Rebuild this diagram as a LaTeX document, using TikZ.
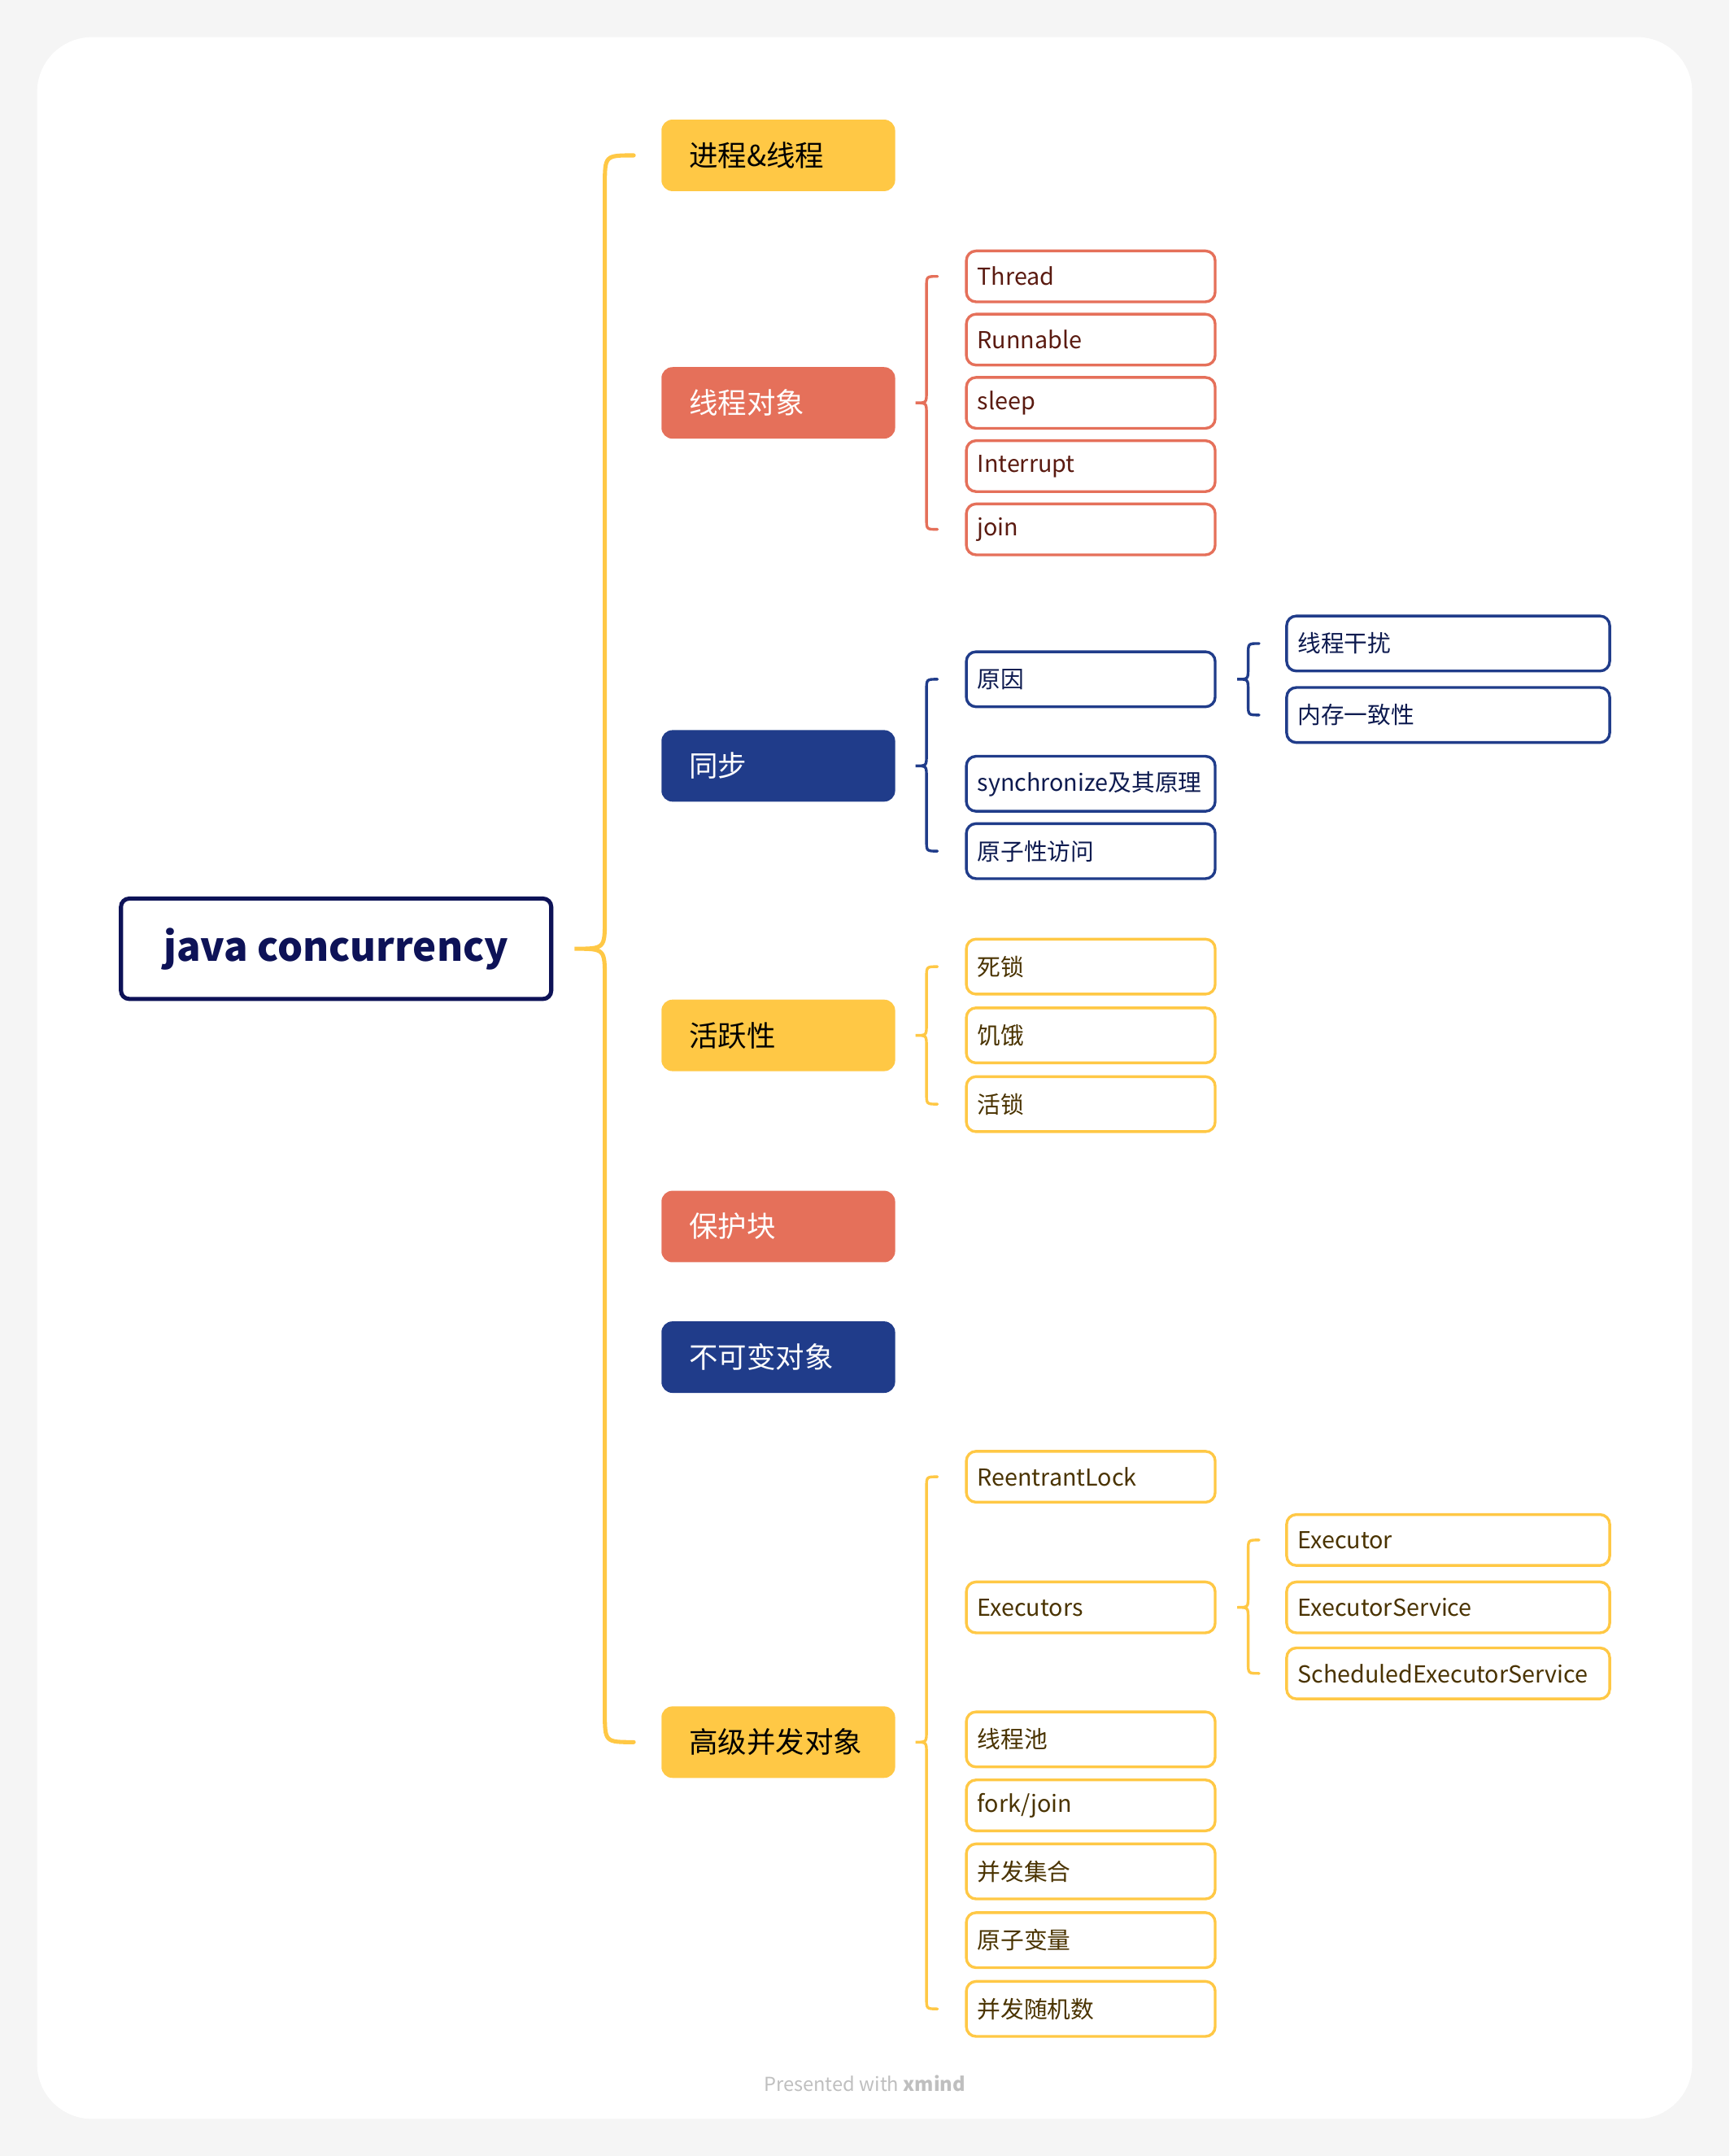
\documentclass[tikz,border=0pt]{standalone}
\usepackage{fontspec}
\setmainfont{Noto Sans CJK SC}
\usetikzlibrary{calc}
\definecolor{bgc}{HTML}{F5F5F5}
\definecolor{yel}{HTML}{FFC845}
\definecolor{redc}{HTML}{E5705A}
\definecolor{blu}{HTML}{203C8A}
\definecolor{navy}{HTML}{0D1257}
\definecolor{redt}{HTML}{5A1A10}
\definecolor{yelt}{HTML}{4A3300}
\definecolor{blut}{HTML}{0D1A4F}
\tikzset{
 brace/.style={line width=2pt, line cap=round},
 root/.style={draw=navy, line width=3pt, rounded corners=6pt, fill=white, minimum width=313pt, minimum height=73pt, text=navy, font=\fontsize{29}{34}\selectfont\bfseries},
 lone/.style={rounded corners=8pt, minimum height=52pt, text width=130pt, inner xsep=20pt, align=left, anchor=west, font=\fontsize{21}{26}\selectfont},
 ltwo/.style={draw, line width=2pt, rounded corners=7pt, fill=white, minimum height=37pt, text width=165pt, inner xsep=8pt, align=left, anchor=west, font=\fontsize{17}{20}\selectfont},
 lthree/.style={ltwo, text width=219pt},
 rb/.style={draw=redc, text=redt},
 bb/.style={draw=blu, text=blut},
 yb/.style={draw=yel, text=yelt},
}
\newcommand\mybrace[8]{%
\draw[#1,brace] let \p0=(#2.east),\p1=(#3.west),\p2=(#4.west) in
 (#7pt,\y1) .. controls (#6pt,\y1) .. (#6pt,\y1-#8) -- (#6pt,\y0+#8)
 .. controls (#6pt,\y0) .. (#5pt,\y0) .. controls (#6pt,\y0) .. (#6pt,\y0-#8)
 -- (#6pt,\y2+#8) .. controls (#6pt,\y2) .. (#7pt,\y2);}
\begin{document}
\begin{tikzpicture}[x=1pt,y=-1pt]
\fill[bgc] (0,0) rectangle (1258,1568);
\fill[white] (27,27) [rounded corners=40pt] rectangle (1231,1541);
\useasboundingbox (0,0) rectangle (1258,1568);
\node[root] (r) at (244.5,690) {java concurrency};
\node[lone,fill=yel,text=black] (a) at (481,113) {进程\&线程};
\node[lone,fill=redc,text=white] (b) at (481,293) {线程对象};
\node[lone,fill=blu,text=white] (c) at (481,557) {同步};
\node[lone,fill=yel,text=black] (d) at (481,753) {活跃性};
\node[lone,fill=redc,text=white] (e) at (481,892) {保护块};
\node[lone,fill=blu,text=white] (f) at (481,987) {不可变对象};
\node[lone,fill=yel,text=black] (g) at (481,1267) {高级并发对象};
\begin{scope}[brace/.append style={line width=3pt}]
\mybrace{yel}{r}{a}{g}{418}{440}{461}{22}
\end{scope}
% thread objects
\node[ltwo,rb] (b1) at (702,201) {Thread};
\node[ltwo,rb] (b2) at (702,247) {Runnable};
\node[ltwo,rb] (b3) at (702,293) {sleep};
\node[ltwo,rb] (b4) at (702,339) {Interrupt};
\node[ltwo,rb] (b5) at (702,385) {join};
\mybrace{redc}{b}{b1}{b5}{666}{674}{682}{8}
% sync
\node[ltwo,bb,minimum height=40pt] (c1) at (702,494) {原因};
\node[ltwo,bb,minimum height=40pt] (c2) at (702,570) {synchronize及其原理};
\node[ltwo,bb,minimum height=40pt] (c3) at (702,619) {原子性访问};
\mybrace{blu}{c}{c1}{c3}{666}{674}{682}{8}
\node[lthree,bb,minimum height=40pt] (c11) at (935,468) {线程干扰};
\node[lthree,bb,minimum height=40pt] (c12) at (935,520) {内存一致性};
\mybrace{blu}{c1}{c11}{c12}{900}{908}{916}{8}
% liveness
\node[ltwo,yb,minimum height=40pt] (d1) at (702,703) {死锁};
\node[ltwo,yb,minimum height=40pt] (d2) at (702,753) {饥饿};
\node[ltwo,yb,minimum height=40pt] (d3) at (702,803) {活锁};
\mybrace{yel}{d}{d1}{d3}{666}{674}{682}{8}
% advanced
\node[ltwo,yb] (g1) at (702,1074) {ReentrantLock};
\node[ltwo,yb] (g2) at (702,1169) {Executors};
\node[ltwo,yb,minimum height=40pt] (g3) at (702,1265) {线程池};
\node[ltwo,yb] (g4) at (702,1313) {fork/join};
\node[ltwo,yb,minimum height=40pt] (g5) at (702,1361) {并发集合};
\node[ltwo,yb,minimum height=40pt] (g6) at (702,1411) {原子变量};
\node[ltwo,yb,minimum height=40pt] (g7) at (702,1461) {并发随机数};
\mybrace{yel}{g}{g1}{g7}{666}{674}{682}{8}
\node[lthree,yb] (g21) at (935,1120) {Executor};
\node[lthree,yb] (g22) at (935,1169) {ExecutorService};
\node[lthree,yb] (g23) at (935,1217) {ScheduledExecutorService};
\mybrace{yel}{g2}{g21}{g23}{900}{908}{916}{8}
\node[text=black!25, font=\fontsize{14}{16}\selectfont] (ft) at (629,1515) {Presented with \textbf{xmind}};
\end{tikzpicture}
\end{document}
